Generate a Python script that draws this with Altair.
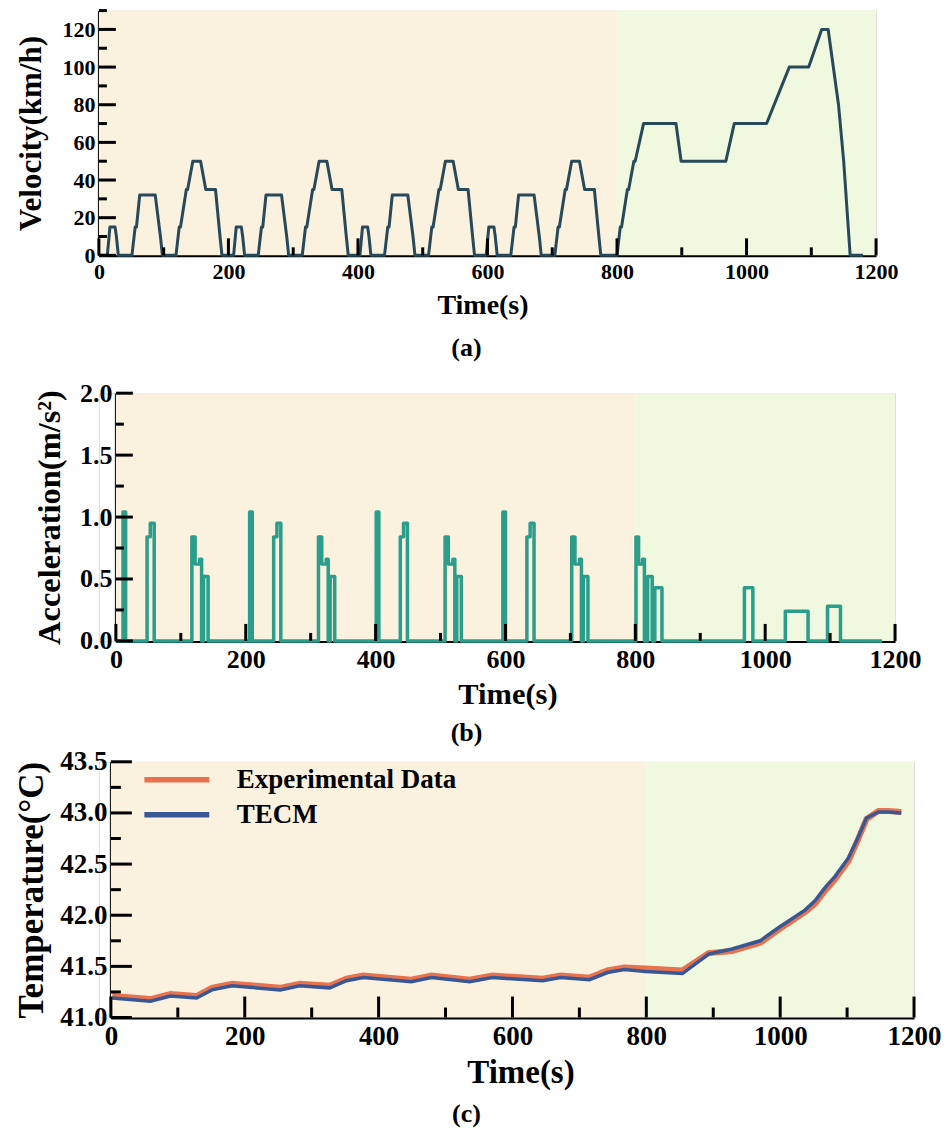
import altair as alt
import pandas as pd

FONT = "Liberation Serif"

# ---------------- Panel (a): velocity (km/h) ----------------
ece_t = [0, 13, 17, 25, 27, 30, 51, 56, 58, 63, 87, 95, 98, 119, 124, 126, 135, 137, 145, 157, 165, 178, 180, 187, 190, 195]
ece_v = [0, 0, 15, 15, 10, 0, 0, 15, 15, 32, 32, 10, 0, 0, 15, 15, 35, 35, 50, 50, 35, 35, 35, 10, 0, 0]
cycle_starts = [0, 195, 390, 585]
eudc_t = [780, 800, 805, 807, 816, 818, 826, 828, 841, 891, 899, 968, 981, 1031, 1066, 1096, 1116, 1126, 1142, 1150, 1160, 1180]
eudc_v = [0, 0, 15, 15, 35, 35, 50, 50, 70, 70, 50, 50, 70, 70, 100, 100, 120, 120, 80, 50, 0, 0]

# ---------------- Panel (b): acceleration (m/s^2) ----------------
ece_acc_t = [0, 11, 11, 15, 15, 48, 48, 53, 53, 59, 59, 117, 117, 122, 122, 129, 129, 132, 132, 135, 135, 142, 142, 195]
ece_acc_a = [0, 0, 1.04, 1.04, 0, 0, 0.84, 0.84, 0.95, 0.95, 0, 0, 0.84, 0.84, 0.62, 0.62, 0.66, 0.66, 0, 0, 0.52, 0.52, 0, 0]
eudc_acc_t = [780, 801, 801, 805, 805, 811, 811, 814, 814, 819, 819, 826, 826, 830, 830, 841, 841,
              968, 968, 981, 981, 1031, 1031, 1066, 1066, 1096, 1096, 1116, 1116, 1180]
eudc_acc_a = [0, 0, 0.84, 0.84, 0.62, 0.62, 0.66, 0.66, 0, 0, 0.52, 0.52, 0, 0, 0.43, 0.43, 0,
              0, 0.43, 0.43, 0, 0, 0.24, 0.24, 0, 0, 0.28, 0.28, 0, 0]

# ---------------- Panel (c): temperature (°C) ----------------
temp_t = [2, 59, 89, 128, 151, 181, 253, 282, 327, 352, 377, 449, 479, 523, 536, 570, 645, 672, 715, 742,
          767, 799, 854, 893, 928, 970, 998, 1037, 1052, 1067, 1082, 1102, 1115, 1129, 1147, 1162, 1181]
temp_tecm = [41.19, 41.16, 41.21, 41.19, 41.27, 41.31, 41.27, 41.31, 41.29, 41.36, 41.39, 41.35, 41.39, 41.36,
             41.35, 41.39, 41.36, 41.39, 41.37, 41.44, 41.47, 41.45, 41.43, 41.62, 41.67, 41.75, 41.88, 42.05,
             42.14, 42.27, 42.38, 42.56, 42.74, 42.95, 43.01, 43.01, 43.00]
temp_exp = [41.21, 41.18, 41.23, 41.21, 41.29, 41.33, 41.29, 41.33, 41.31, 41.38, 41.41, 41.37, 41.41, 41.38,
            41.37, 41.41, 41.38, 41.41, 41.39, 41.46, 41.49, 41.48, 41.46, 41.63, 41.65, 41.73, 41.86, 42.03,
            42.11, 42.24, 42.35, 42.53, 42.72, 42.94, 43.02, 43.02, 43.01]
series_names = ["Experimental Data", "TECM"]
series_colors = ["#E8724E", "#3A5795"]

# ---------------- shared ----------------
urban_span = [0, 800]
suburban_span = [800, 1200]
bg_colors = ["#FAF1DF", "#F0F9DF"]
x_major = [0, 200, 400, 600, 800, 1000, 1200]
x_minor = [100, 300, 500, 700, 900, 1100]

va_major = [0, 20, 40, 60, 80, 100, 120]
va_minor = [10, 30, 50, 70, 90, 110, 130]
vb_major = [0.0, 0.5, 1.0, 1.5, 2.0]
vb_minor = [0.25, 0.75, 1.25, 1.75]
vc_major = [41.0, 41.5, 42.0, 42.5, 43.0, 43.5]
vc_minor = [41.25, 41.75, 42.25, 42.75, 43.25]

# tables
vel_t, vel_v = [], []
for s in cycle_starts:
    for t, v in zip(ece_t, ece_v):
        vel_t.append(s + t)
        vel_v.append(v)
vel_t += eudc_t
vel_v += eudc_v
vel_df = pd.DataFrame({"t": vel_t, "v": vel_v, "i": range(len(vel_t))})

acc_t, acc_a = [], []
for s in cycle_starts:
    for t, a in zip(ece_acc_t, ece_acc_a):
        acc_t.append(s + t)
        acc_a.append(a)
acc_t += eudc_acc_t
acc_a += eudc_acc_a
acc_df = pd.DataFrame({"t": acc_t, "v": acc_a, "i": range(len(acc_t))})

exp_df = pd.DataFrame({"t": temp_t, "v": temp_exp, "series": series_names[0]})
tecm_df = pd.DataFrame({"t": temp_t, "v": temp_tecm, "series": series_names[1]})


def panel(line_layers, x0, W, H, ydom, ymaj, ymin, yfmt, ytitle, lab_fs, xt_fs, yt_fs,
          lmaj, lmin, xlabpad, xtitlepad, ylabpad, yext, ytitlepad, xtitle_x, cap, cap_dx, cap_off,
          cap_lh=None):
    xs = alt.Scale(domain=[0, 1200], nice=False, zero=False, range=[x0, x0 + W])
    ys = alt.Scale(domain=ydom, nice=False, zero=False)
    xaxis = alt.Axis(values=x_major, format="d", ticks=False, grid=False, domainWidth=3, domainColor="black",
                     labelFont=FONT, labelFontSize=lab_fs, labelFontWeight="bold", labelColor="black",
                     labelPadding=xlabpad, labelFlush=False, title="Time(s)", titleFont=FONT,
                     titleFontSize=xt_fs, titleFontWeight="bold", titleColor="black", titlePadding=xtitlepad,
                     titleX=x0 + xtitle_x, zindex=0)
    yaxis = alt.Axis(values=ymaj, format=yfmt, ticks=False, grid=False, domainWidth=3, domainColor="black",
                     labelFont=FONT, labelFontSize=lab_fs, labelFontWeight="bold", labelColor="black",
                     labelPadding=ylabpad, labelFlush=False, minExtent=yext, maxExtent=yext,
                     title=ytitle, titleFont=FONT, titleFontSize=yt_fs, titleFontWeight="bold",
                     titleColor="black", titlePadding=ytitlepad, zindex=0, offset=-x0)

    bg1 = alt.Chart(pd.DataFrame({"x0": [urban_span[0]], "x1": [urban_span[1]]})).mark_rect(
        color=bg_colors[0]).encode(x=alt.X("x0:Q", scale=xs, axis=xaxis), x2="x1:Q")
    bg2 = alt.Chart(pd.DataFrame({"x0": [suburban_span[0]], "x1": [suburban_span[1]]})).mark_rect(
        color=bg_colors[1]).encode(x=alt.X("x0:Q", scale=xs, axis=xaxis), x2="x1:Q")

    layers = [bg1, bg2]
    for lay in line_layers:
        layers.append(lay.encode(x=alt.X("t:Q", scale=xs, axis=xaxis), y=alt.Y("v:Q", scale=ys, axis=yaxis)))

    def xt(vals, L):
        return alt.Chart(pd.DataFrame({"p": vals})).mark_rule(color="black", strokeWidth=3).encode(
            x=alt.X("p:Q", scale=xs), y=alt.value(H), y2=alt.value(H - L))

    def yt(vals, L):
        return alt.Chart(pd.DataFrame({"q": vals})).mark_rule(color="black", strokeWidth=3).encode(
            y=alt.Y("q:Q", scale=ys), x=alt.value(x0), x2=alt.value(x0 + L))

    layers += [xt(x_major, lmaj), xt(x_minor, lmin), yt(ymaj, lmaj), yt(ymin, lmin)]
    cap_kw = dict(orient="bottom", anchor="middle", frame="group", dx=cap_dx + x0 / 2, offset=cap_off,
                  font=FONT, fontSize=26, fontWeight="bold", color="black")
    if cap_lh is not None:
        cap_kw["lineHeight"] = cap_lh
    return alt.layer(*layers).properties(width=x0 + W, height=H, title=alt.TitleParams(cap, **cap_kw))


vel_line = alt.Chart(vel_df).mark_line(color="#28495A", strokeWidth=3, strokeJoin="round").encode(
    order="i:Q")
acc_line = alt.Chart(acc_df).mark_line(color="#2A9D8B", strokeWidth=3.5, strokeJoin="round").encode(
    order="i:Q")

color_scale = alt.Scale(domain=series_names, range=series_colors)
legend = alt.Legend(title=None, orient="none", legendX=64, legendY=756, symbolType="M-3,0L3,0",
                    symbolSize=469, symbolStrokeWidth=5.5, labelFont=FONT, labelFontSize=27,
                    labelFontWeight="bold", labelColor="black", labelOffset=46, rowPadding=8, padding=0,
                    labelLimit=400)
exp_line = alt.Chart(exp_df).mark_line(strokeWidth=6).encode(
    color=alt.Color("series:N", scale=color_scale, legend=legend), order="t:Q")
tecm_line = alt.Chart(tecm_df).mark_line(strokeWidth=3.5).encode(
    color=alt.Color("series:N", scale=color_scale, legend=legend), order="t:Q")

pa = panel([vel_line], 0, 778, 245, [0, 130], va_major, va_minor, "d", "Velocity(km/h)", 22, 28, 31,
           17, 8, 6, 9, 4, 36, 15.5, 384, ["(a)", " "], -21, 16, cap_lh=17)
pb = panel([acc_line], 17, 780, 248, [0, 2], vb_major, vb_minor, ".1f", "Acceleration(m/s²)", 26, 30.5, 32.5,
           17, 8, 6, 7, 4, 37, 12, 392, "(b)", -39, 10)
pc = panel([exp_line, tecm_line], 12, 804, 256, [41, 43.5], vc_major, vc_minor, ".1f", "Temperature(°C)", 27, 33, 35,
           21, 10, 6, 7, 4, 51, 10, 410, "(c)", -46, 12)

chart = alt.vconcat(pa, pb, pc, spacing=0).properties(
    padding={"left": 6, "top": 0, "right": 0, "bottom": 0}
).configure_view(stroke="transparent").configure(background="white")

chart.save("out.html", embed_options={"renderer": "svg", "actions": False})
